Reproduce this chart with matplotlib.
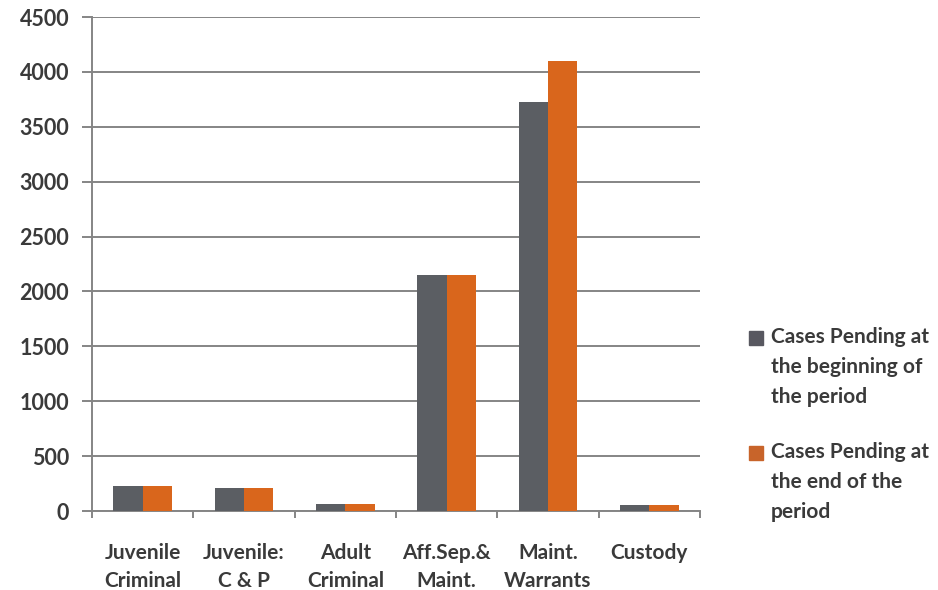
import numpy as np
import matplotlib.pyplot as plt
from matplotlib.patches import Rectangle

categories = ["Juvenile\nCriminal", "Juvenile:\nC & P", "Adult\nCriminal",
              "Aff.Sep.&\nMaint.", "Maint.\nWarrants", "Custody"]
pending_start = [230, 210, 65, 2150, 3725, 55]
pending_end = [230, 210, 65, 2150, 4095, 55]
series_labels = ["Cases Pending at\nthe beginning of\nthe period",
                 "Cases Pending at\nthe end of the\nperiod"]
series_colors = ["#5b5e63", "#d9661c"]
legend_colors = ["#585860", "#c8642a"]

plt.rcParams['font.family'] = ['Lato', 'DejaVu Sans']
plt.rcParams['font.weight'] = 'bold'
text_col = "#3a3a3a"
grid_col = "#858585"

fig = plt.figure(figsize=(9.38, 5.90), dpi=100)
ax = fig.add_axes([92/938, 1 - 511/590, (700-92)/938, (511-17)/590])

x = np.arange(len(categories))
w = 0.29
ax.bar(x - w/2, pending_start, w, color=series_colors[0], zorder=3)
ax.bar(x + w/2, pending_end, w, color=series_colors[1], zorder=3)

ax.set_xlim(-0.5, len(categories) - 0.5)
ax.set_ylim(0, 4500)
ax.set_yticks(np.arange(0, 4501, 500))
ax.set_xticks(x)
ax.set_xticklabels(categories, linespacing=1.5)
ax.set_xticks(np.arange(-0.5, len(categories)), minor=True)

ax.yaxis.grid(True, color=grid_col, linewidth=1.4, zorder=0)
for s in ["top", "right"]:
    ax.spines[s].set_visible(False)
for s in ["left", "bottom"]:
    ax.spines[s].set_color(grid_col)
    ax.spines[s].set_linewidth(1.4)

ax.tick_params(axis="y", direction="out", length=7, width=1.4, color=grid_col,
               pad=9.5, labelsize=15.5, labelcolor=text_col)
ax.tick_params(axis="x", which="major", length=0, pad=23,
               labelsize=15, labelcolor=text_col)
ax.tick_params(axis="x", which="minor", direction="out", length=5, width=1.4,
               color=grid_col)

# legend drawn by hand so the swatch sits on the first text line
for i, (lab, col) in enumerate(zip(series_labels, legend_colors)):
    yline = 338 + i * 115
    fig.patches.append(Rectangle((749/938, 1 - (yline + 7)/590), 14/938, 14/590,
                                 transform=fig.transFigure, color=col))
    fig.text(771/938, 1 - (yline - 11)/590, lab, fontsize=15, color=text_col,
             va="top", ha="left", linespacing=1.62)

fig.savefig("out.png", dpi=100)
